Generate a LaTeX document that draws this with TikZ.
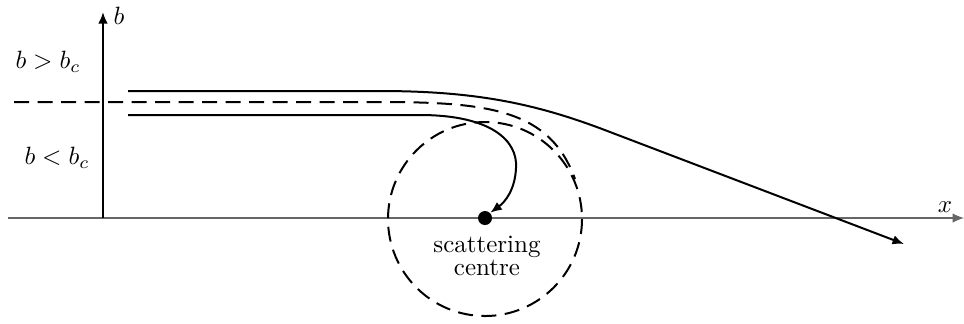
\documentclass[tikz,border=0pt]{standalone}
\usetikzlibrary{arrows.meta}
\begin{document}
\begin{tikzpicture}[x=0.4pt,y=-0.4pt,
  traj/.style={line width=0.8pt},
  dsh/.style={line width=0.8pt,dash pattern=on 6pt off 3.4pt},
  tip/.style={-{Latex[length=4.6pt,width=3.8pt]}},
  lbl/.style={inner sep=0pt}]
\useasboundingbox (0,0) rectangle (964,323);
% axes
\coordinate (xs) at (8,218);
\coordinate (xe) at (964,218);
\coordinate (bs) at (103,218);
\coordinate (be) at (103,12);
\draw[gray!80!black,line width=0.45pt,tip] (xs) -- (xe);
\draw[traj,tip] (bs) -- (be);
\node[lbl] (blab) at (119,16) {$b$};
\node[lbl] (xlab) at (945,207) {$x$};
\node[lbl] (gt) at (48,62) {$b>b_c$};
\node[lbl] (lt) at (57,158) {$b<b_c$};
% scattering centre
\node[circle,fill=black,inner sep=0pt,minimum size=5.6pt] (sc) at (485,218) {};
\node[align=center,inner sep=0pt] (sclab) at (487,256) {scattering\\[-2.5pt]centre};
% critical circle
\draw[dsh] (485,219) circle[radius=97];
% critical (dashed) trajectory
\coordinate (d0) at (14,102);
\coordinate (d1) at (380,102);
\coordinate (d2) at (575,179);
\draw[dsh] (d0) -- (d1) .. controls (490,102) and (550,110) .. (d2);
% upper trajectory b > b_c
\coordinate (u0) at (128,91);
\coordinate (u1) at (380,91);
\coordinate (u2) at (610,132);
\coordinate (u3) at (904,244);
\draw[traj,tip] (u0) -- (u1) .. controls (480,91) and (540,105) .. (u2) -- (u3);
% lower trajectory b < b_c
\coordinate (l0) at (128,115);
\coordinate (l1) at (420,115);
\coordinate (l2) at (516,168);
\draw[traj,tip] (l0) -- (l1) .. controls (490,115) and (518,140) .. (l2) .. controls (515,190) and (505,202) .. (sc.north east);
\end{tikzpicture}
\end{document}
